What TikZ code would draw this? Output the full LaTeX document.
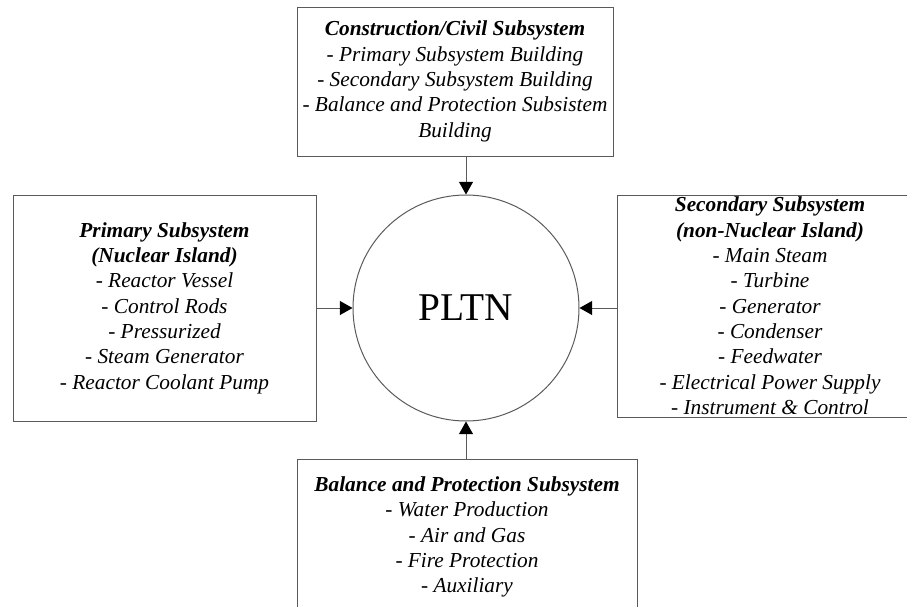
\documentclass[tikz,border=0pt]{standalone}
\usepackage{fontspec}
\setmainfont{Liberation Serif}
\usetikzlibrary{arrows.meta}
\definecolor{linegray}{RGB}{90, 90, 90}

\begin{document}
\begin{tikzpicture}[
  x=0.75pt, y=-0.75pt,
  subbox/.style={rectangle, draw=linegray, line width=0.75pt, fill=white,
                 align=center, inner sep=0pt,
                 font=\fontsize{16}{19}\selectfont\itshape},
  core/.style={circle, draw=linegray, line width=0.75pt, fill=white,
               minimum size=169.5pt, inner sep=0pt,
               font=\fontsize{29.5}{34}\selectfont},
  arr/.style={-{Triangle[length=9.5pt, width=10.5pt, color=black]},
              line width=0.75pt, draw=linegray}
]
  %% Page frame
  \useasboundingbox (0,0) rectangle (907,607);
  \clip (0,0) rectangle (907,607);
  \fill[white] (0,0) rectangle (907,607);

  %% Centre
  \node[core] (pltn) at (466,308) {PLTN};

  %% Four subsystems
  \node[subbox, minimum width=237pt, minimum height=111.75pt] (civil) at (455,81.5)
    {\textbf{Construction/Civil Subsystem}\\
     - Primary Subsystem Building\\
     - Secondary Subsystem Building\\
     - Balance and Protection Subsistem\\
     Building};

  \node[subbox, minimum width=227.25pt, minimum height=169.5pt] (prim) at (164.5,308)
    {\textbf{Primary Subsystem}\\
     \textbf{(Nuclear Island)}\\
     - Reactor Vessel\\
     - Control Rods\\
     - Pressurized\\
     - Steam Generator\\
     - Reactor Coolant Pump};

  \node[subbox, minimum width=229.5pt, minimum height=166.5pt] (sec) at (770,306)
    {\textbf{Secondary Subsystem}\\
     \textbf{(non-Nuclear Island)}\\
     - Main Steam\\
     - Turbine\\
     - Generator\\
     - Condenser\\
     - Feedwater\\
     - Electrical Power Supply\\
     - Instrument \& Control};

  \node[subbox, minimum width=255pt, minimum height=117pt] (bop) at (467,537)
    {\textbf{Balance and Protection Subsystem}\\
     - Water Production\\
     - Air and Gas\\
     - Fire Protection\\
     - Auxiliary};

  %% Arrows into the centre
  \draw[arr] (pltn |- civil.south) -- (pltn.north);
  \draw[arr] (prim.east) -- (pltn.west);
  \draw[arr] (sec.west |- pltn) -- (pltn.east);
  \draw[arr] (pltn |- bop.north) -- (pltn.south);
\end{tikzpicture}
\end{document}
